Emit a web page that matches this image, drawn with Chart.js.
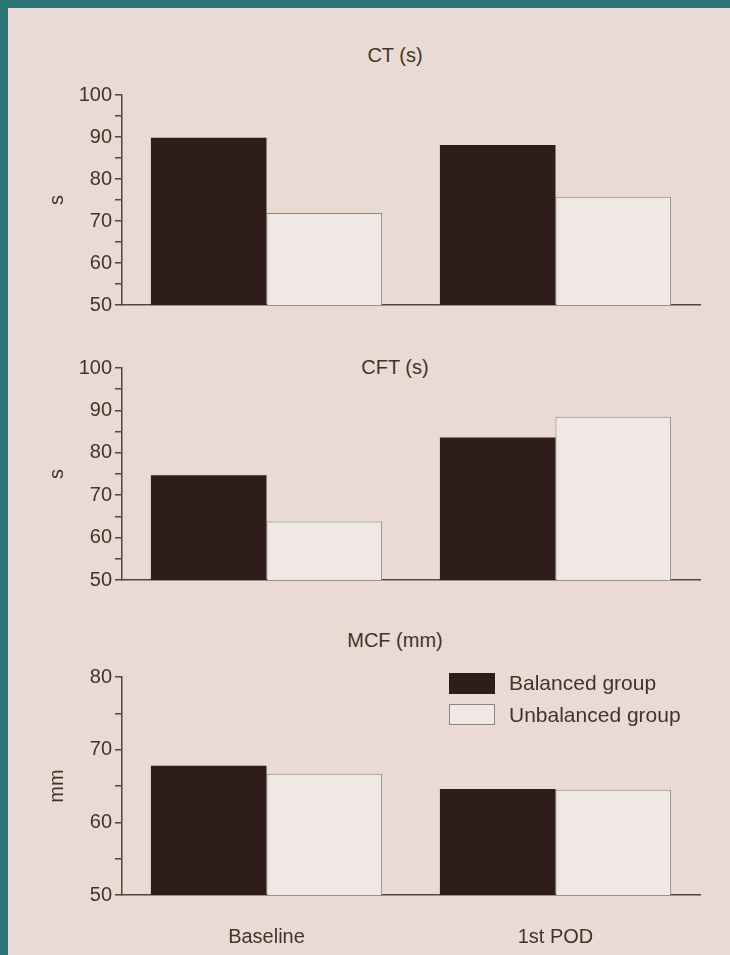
<!DOCTYPE html>
<html>
<head>
<meta charset="utf-8">
<script src="https://cdn.jsdelivr.net/npm/chart.js@4"></script>
<style>
  body { margin: 0; width: 730px; height: 955px; background: #2a7476; overflow: hidden; position: relative; font-family: "Liberation Sans", Arial, sans-serif; }
  #paper { position: absolute; left: 8px; top: 8px; width: 722px; height: 947px; background: #e9dbd3; }
  canvas { position: absolute; left: 0; }
  .ttl { position: absolute; width: 200px; left: 295px; text-align: center; font-size: 20px; color: #3d3629; line-height: 24px; }
  .lg-box { position: absolute; left: 449px; width: 44px; height: 19px; }
  .lg-txt { position: absolute; left: 509px; font-size: 21px; color: #3d3629; line-height: 24px; }
</style>
</head>
<body>
<div id="paper"></div>

<div class="ttl" style="top:43px">CT (s)</div>
<div class="ttl" style="top:355px">CFT (s)</div>
<div class="ttl" style="top:628px">MCF (mm)</div>

<canvas id="ct_chart" width="730" height="240" style="top:80px"></canvas>
<canvas id="cft_chart" width="730" height="242" style="top:353px"></canvas>
<canvas id="mcf_chart" width="730" height="293" style="top:662px"></canvas>

<div class="lg-box" style="top:673px; background:#2f1d1b; border:1px solid #2f1d1b"></div>
<div class="lg-txt" style="top:671px">Balanced group</div>
<div class="lg-box" style="top:704px; background:#f0e8e5; border:1px solid #8d877c"></div>
<div class="lg-txt" style="top:703px">Unbalanced group</div>

<script>
// categories + values
var categories = ['Baseline', '1st POD'];
var seriesNames = ['Balanced group', 'Unbalanced group'];

var ctBalanced = [89.8, 88.1];
var ctUnbalanced = [71.9, 75.8];

var cftBalanced = [74.7, 83.6];
var cftUnbalanced = [63.8, 88.5];

var mcfBalanced = [67.8, 64.6];
var mcfUnbalanced = [66.7, 64.5];

var axisColor = '#4f4839';
var textColor = '#3d3629';
var font = { family: '"Liberation Sans", Arial, sans-serif', size: 20 };

function makeChart(id, balanced, unbalanced, yMin, yMax, yTitle, showLabels) {
  var ctx = document.getElementById(id);
  return new Chart(ctx, {
    type: 'bar',
    data: {
      labels: categories,
      datasets: [
        {
          label: seriesNames[0],
          data: balanced,
          backgroundColor: '#2f1d1b',
          borderWidth: 0
        },
        {
          label: seriesNames[1],
          data: unbalanced,
          backgroundColor: '#f0e8e5',
          borderColor: '#8d877c',
          borderWidth: 1
        }
      ]
    },
    options: {
      responsive: false,
      animation: false,
      devicePixelRatio: 1,
      layout: { padding: { top: 10, right: 30, bottom: 0, left: 45 } },
      plugins: { legend: { display: false }, tooltip: { enabled: false } },
      datasets: { bar: { categoryPercentage: 0.8, barPercentage: 1.0 } },
      scales: {
        x: {
          grid: { display: false },
          border: { display: true, color: axisColor, width: 1.5 },
          ticks: { display: showLabels, color: textColor, padding: 22, font: { family: font.family, size: 20 } },
          afterFit: function(scale) { scale.height = showLabels ? 60 : 15; }
        },
        y: {
          min: yMin,
          max: yMax,
          grid: { drawOnChartArea: false, drawTicks: true, tickLength: 7, color: axisColor, lineWidth: 1.5 },
          border: { display: true, color: axisColor, width: 1.5 },
          ticks: {
            stepSize: 5,
            autoSkip: false,
            padding: 3,
            color: textColor,
            font: font,
            callback: function(v) { return v % 10 === 0 ? v : ''; }
          },
          title: { display: true, text: yTitle, color: textColor, font: { family: font.family, size: 20 }, padding: { top: 0, bottom: 0 } },
          afterFit: function(scale) { scale.width = 77; }
        }
      }
    }
  });
}

makeChart('ct_chart', ctBalanced, ctUnbalanced, 50, 100, 's', false);
makeChart('cft_chart', cftBalanced, cftUnbalanced, 50, 100, 's', false);
makeChart('mcf_chart', mcfBalanced, mcfUnbalanced, 50, 80, 'mm', true);
</script>
</body>
</html>
